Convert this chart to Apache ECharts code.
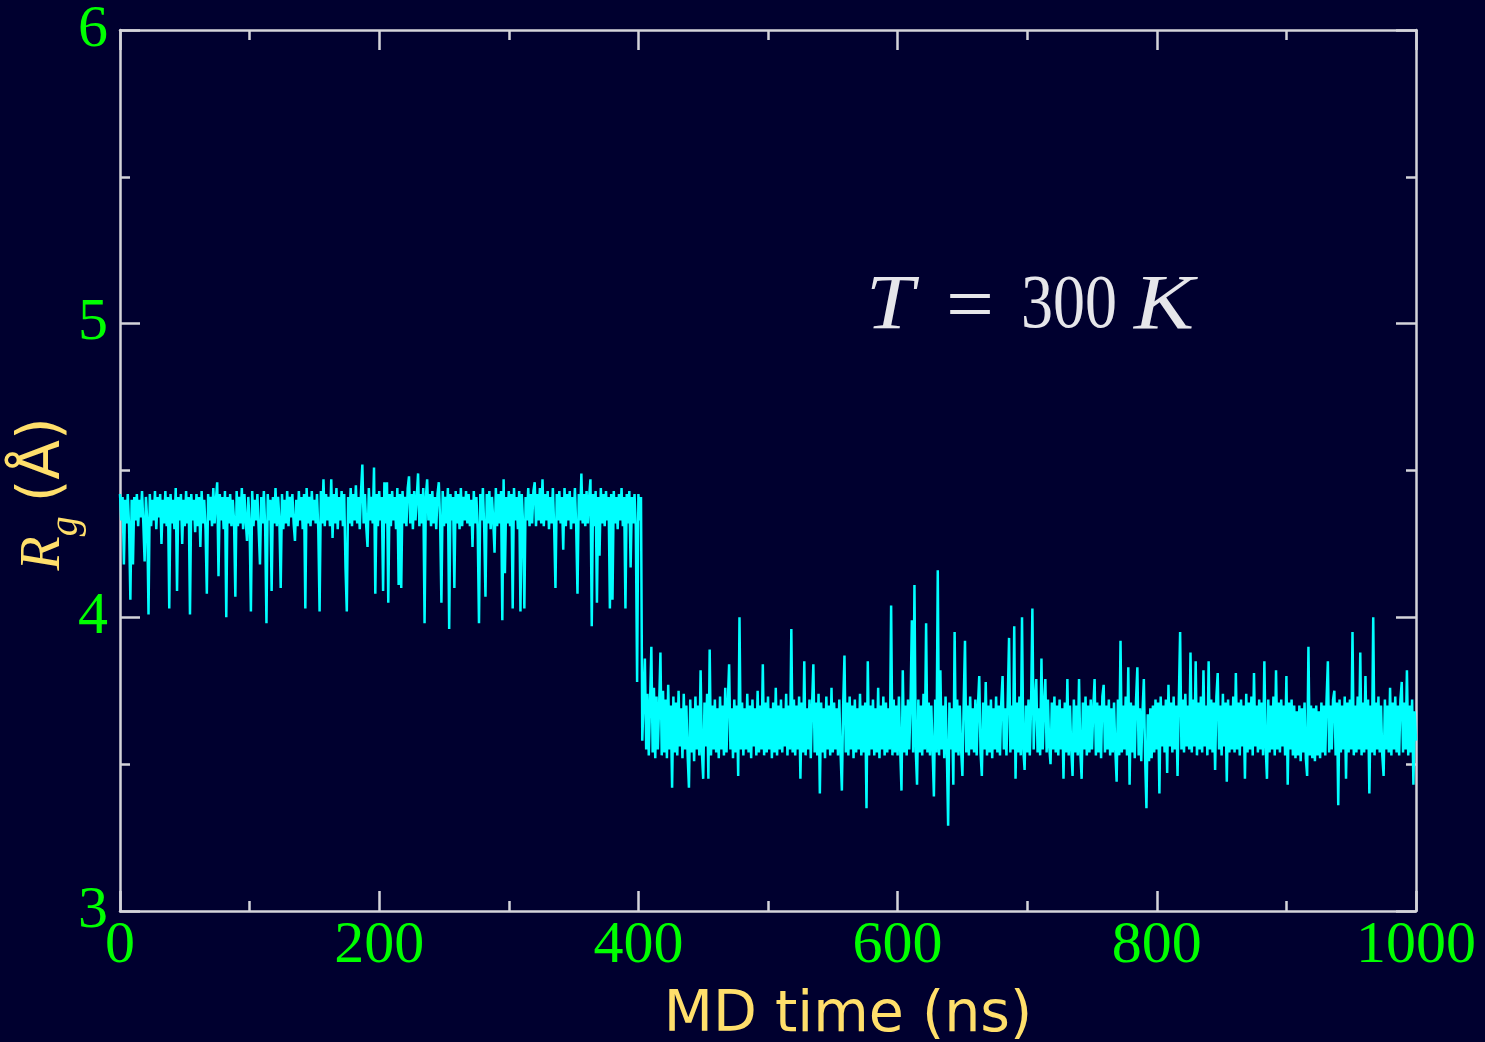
<!DOCTYPE html>
<html>
<head>
<meta charset="utf-8">
<script src="https://cdn.jsdelivr.net/npm/echarts@6/dist/echarts.min.js"></script>
<style>
html,body{margin:0;padding:0;background:#00002f;}
#chart{width:1485px;height:1042px;}
</style>
</head>
<body>
<div id="chart"></div>
<script>
// Time axis (ns)
const timeStep = 1;          // ns between samples
const equilStart = 0;        // first segment start (ns)
const collapsedStart = 403;  // second segment start (ns)
const xTicks = [0, 200, 400, 600, 800, 1000];
const yTicks = [3, 4, 5, 6];

// Rg (Å), extended state, t = 0 .. 402 ns
const rgExtended = [
4.42,4.33,4.41,4.18,4.40,4.32,4.42,4.31,4.06,4.40,4.18,4.41,4.33,4.42,4.31,4.40,4.34,4.43,4.32,4.19,
4.41,4.33,4.01,4.42,4.31,4.40,4.33,4.43,4.30,4.41,4.34,4.42,4.25,4.40,4.32,4.43,4.31,4.41,4.03,4.42,
4.32,4.40,4.30,4.44,4.09,4.41,4.33,4.42,4.25,4.40,4.31,4.43,4.32,4.41,4.01,4.42,4.33,4.40,4.29,4.42,
4.31,4.41,4.24,4.43,4.32,4.40,4.30,4.08,4.42,4.33,4.41,4.31,4.44,4.32,4.40,4.46,4.14,4.42,4.33,4.41,
4.30,4.43,4.00,4.41,4.32,4.42,4.31,4.40,4.33,4.07,4.43,4.31,4.41,4.32,4.44,4.30,4.42,4.33,4.26,4.41,
4.32,4.02,4.43,4.31,4.40,4.33,4.42,4.30,4.18,4.41,4.32,4.43,4.31,3.98,4.42,4.33,4.40,4.09,4.41,4.32,
4.44,4.31,4.41,4.33,4.10,4.42,4.30,4.40,4.32,4.43,4.31,4.41,4.34,4.42,4.32,4.26,4.40,4.31,4.43,4.33,
4.41,4.30,4.42,4.03,4.44,4.32,4.41,4.31,4.43,4.33,4.40,4.32,4.42,4.30,4.02,4.43,4.32,4.47,4.31,4.42,
4.33,4.41,4.31,4.47,4.27,4.42,4.32,4.44,4.30,4.41,4.33,4.43,4.31,4.42,4.17,4.02,4.41,4.32,4.44,4.31,
4.42,4.33,4.45,4.32,4.41,4.30,4.43,4.52,4.32,4.42,4.31,4.24,4.44,4.33,4.41,4.32,4.51,4.08,4.42,4.31,
4.43,4.33,4.41,4.09,4.46,4.32,4.46,4.05,4.42,4.31,4.43,4.33,4.41,4.30,4.44,4.11,4.42,4.10,4.43,4.32,
4.41,4.31,4.44,4.48,4.32,4.42,4.30,4.43,4.33,4.41,4.49,4.31,4.42,4.32,4.44,3.98,4.41,4.47,4.33,4.42,
4.31,4.43,4.32,4.41,4.30,4.42,4.46,4.33,4.05,4.43,4.31,4.41,4.32,4.44,3.96,4.42,4.33,4.41,4.10,4.43,
4.32,4.42,4.30,4.44,4.31,4.41,4.33,4.43,4.32,4.42,4.31,4.40,4.24,4.43,4.32,4.41,4.30,3.98,4.42,4.33,
4.44,4.31,4.07,4.42,4.32,4.43,4.30,4.41,4.33,4.22,4.44,4.31,4.42,4.32,4.43,3.99,4.47,4.15,4.41,4.32,
4.43,4.31,4.42,4.03,4.44,4.33,4.41,4.30,4.43,4.02,4.42,4.32,4.03,4.41,4.33,4.44,4.31,4.42,4.32,4.43,
4.46,4.31,4.42,4.33,4.44,4.32,4.47,4.31,4.42,4.33,4.43,4.30,4.41,4.32,4.44,4.31,4.10,4.42,4.33,4.43,
4.32,4.41,4.23,4.44,4.31,4.42,4.33,4.43,4.30,4.41,4.32,4.44,4.31,4.08,4.42,4.33,4.49,4.32,4.42,4.31,
4.43,4.32,4.41,4.47,3.97,4.42,4.31,4.43,4.05,4.41,4.21,4.44,4.32,4.42,4.31,4.43,4.33,4.41,4.03,4.42,
4.06,4.43,4.32,4.41,4.30,4.42,4.33,4.44,4.31,4.41,4.03,4.42,4.32,4.43,4.17,4.41,4.32,4.42,4.31,3.78,
4.42,4.33,4.41
];

// Rg (Å), compact state, t = 403 .. 1000 ns
const rgCompact = [
3.58,3.72,3.86,3.55,3.74,3.53,3.71,3.90,3.54,3.76,3.52,3.73,3.55,3.70,3.88,3.53,3.75,
3.54,3.72,3.52,3.77,3.55,3.70,3.42,3.73,3.54,3.71,3.53,3.75,3.56,3.69,3.52,3.74,3.55,3.70,3.53,3.42,
3.72,3.54,3.69,3.51,3.73,3.55,3.70,3.53,3.82,3.54,3.45,3.71,3.56,3.74,3.45,3.89,3.53,3.70,3.55,3.72,
3.54,3.69,3.52,3.73,3.55,3.70,3.53,3.76,3.54,3.71,3.84,3.55,3.69,3.52,3.72,3.54,3.70,3.46,4.00,3.55,
3.71,3.53,3.69,3.55,3.74,3.54,3.70,3.52,3.72,3.56,3.69,3.53,3.75,3.54,3.70,3.55,3.84,3.53,3.71,3.54,
3.73,3.55,3.69,3.52,3.71,3.54,3.76,3.53,3.70,3.55,3.72,3.54,3.69,3.56,3.74,3.53,3.70,3.55,3.96,3.54,
3.72,3.53,3.70,3.55,3.73,3.45,3.71,3.54,3.85,3.53,3.69,3.55,3.72,3.52,3.70,3.84,3.54,3.71,3.53,3.74,
3.40,3.71,3.54,3.69,3.52,3.73,3.55,3.70,3.53,3.76,3.54,3.71,3.55,3.69,3.53,3.72,3.54,3.41,3.70,3.87,
3.54,3.71,3.53,3.73,3.55,3.70,3.52,3.72,3.54,3.69,3.55,3.74,3.53,3.70,3.54,3.71,3.35,3.85,3.53,3.70,
3.55,3.72,3.53,3.69,3.54,3.76,3.52,3.70,3.55,3.73,3.53,3.71,3.54,3.69,3.55,4.04,3.53,3.72,3.54,3.70,
3.53,3.73,3.55,3.41,3.82,3.54,3.70,3.53,3.72,3.55,3.71,3.99,3.54,4.11,3.55,3.43,3.72,3.54,3.70,3.53,
3.74,3.55,3.98,3.54,3.71,3.53,3.70,3.55,3.39,3.72,3.54,4.16,3.53,3.82,3.55,3.70,3.52,3.73,3.54,3.29,
3.71,3.55,3.69,3.43,3.95,3.54,3.72,3.53,3.70,3.55,3.46,3.71,3.92,3.54,3.70,3.53,3.73,3.55,3.69,3.54,
3.72,3.53,3.70,3.80,3.54,3.46,3.71,3.55,3.78,3.53,3.70,3.54,3.72,3.52,3.69,3.55,3.73,3.54,3.70,3.53,
3.71,3.80,3.55,3.69,3.53,3.72,3.93,3.54,3.70,3.55,3.97,3.45,3.71,3.54,3.73,3.53,4.00,3.55,3.48,3.70,
3.54,3.72,3.53,3.70,4.03,3.55,3.71,3.79,3.54,3.69,3.53,3.86,3.55,3.70,3.79,3.54,3.72,3.56,3.50,3.71,
3.55,3.73,3.54,3.70,3.53,3.72,3.55,3.69,3.45,3.71,3.54,3.79,3.53,3.70,3.55,3.46,3.72,3.54,3.70,3.53,
3.79,3.54,3.45,3.71,3.55,3.73,3.53,3.70,3.54,3.72,3.55,3.69,3.79,3.53,3.71,3.54,3.70,3.52,3.73,3.77,
3.54,3.70,3.55,3.72,3.53,3.69,3.54,3.71,3.55,3.44,3.72,3.53,3.92,3.54,3.70,3.55,3.73,3.53,3.83,3.43,
3.71,3.54,3.70,3.52,3.72,3.83,3.53,3.69,3.51,3.68,3.79,3.52,3.35,3.67,3.51,3.69,3.52,3.70,3.54,3.72,
3.55,3.71,3.40,3.73,3.56,3.70,3.54,3.72,3.47,3.77,3.56,3.71,3.54,3.73,3.55,3.70,3.46,3.72,3.95,3.55,
3.72,3.54,3.74,3.56,3.70,3.55,3.88,3.54,3.72,3.56,3.85,3.53,3.71,3.55,3.73,3.54,3.82,3.56,3.70,3.53,
3.85,3.55,3.72,3.54,3.71,3.48,3.73,3.81,3.55,3.70,3.53,3.74,3.56,3.71,3.44,3.72,3.54,3.70,3.55,3.73,
3.54,3.81,3.55,3.71,3.53,3.72,3.56,3.70,3.45,3.74,3.54,3.71,3.55,3.73,3.53,3.81,3.56,3.70,3.54,3.72,
3.55,3.71,3.53,3.85,3.56,3.45,3.72,3.54,3.70,3.55,3.73,3.53,3.82,3.55,3.71,3.54,3.72,3.56,3.70,3.53,
3.80,3.43,3.71,3.55,3.72,3.53,3.70,3.52,3.68,3.53,3.70,3.51,3.69,3.54,3.71,3.52,3.46,3.90,3.53,3.70,
3.52,3.69,3.51,3.70,3.53,3.68,3.52,3.71,3.54,3.70,3.53,3.72,3.85,3.54,3.70,3.55,3.72,3.75,3.53,3.71,
3.36,3.72,3.54,3.70,3.55,3.73,3.45,3.71,3.54,3.72,3.55,3.95,3.53,3.70,3.54,3.73,3.55,3.88,3.53,3.71,
3.54,3.80,3.55,3.72,3.40,3.70,3.54,4.00,3.53,3.71,3.55,3.73,3.54,3.70,3.53,3.46,3.72,3.55,3.70,3.54,
3.76,3.53,3.71,3.55,3.73,3.54,3.70,3.53,3.72,3.78,3.54,3.71,3.55,3.82,3.53,3.70,3.54,3.72,3.43,3.68,
3.58
];

const xTitle = 'MD time (ns)';
const annotation = { T: 'T', eq: '=', val: '300', K: 'K' };

const seriesData = rgExtended.map((v, i) => [equilStart + i * timeStep, v])
  .concat(rgCompact.map((v, i) => [collapsedStart + i * timeStep, v]));

const frameColor = '#d4d4da';
const labelGreen = '#00ff00';
const titleYellow = '#ffdf6b';
const annColor = '#e6e6ea';
const serif = '"Liberation Serif", "DejaVu Serif", serif';
const sans = '"DejaVu Sans", "Liberation Sans", sans-serif';

function xAxisCfg(pos, showLabels) {
  return {
    type: 'value', position: pos, min: xTicks[0], max: xTicks[xTicks.length - 1],
    interval: xTicks[1] - xTicks[0],
    axisLine: { show: true, onZero: false, lineStyle: { color: frameColor, width: 2.5 } },
    axisTick: { show: true, inside: true, length: 20, lineStyle: { color: frameColor, width: 2.5 } },
    minorTick: { show: true, splitNumber: 2, length: 10, lineStyle: { color: frameColor, width: 2.5 } },
    splitLine: { show: false },
    axisLabel: { show: showLabels, color: labelGreen, fontFamily: serif, fontSize: 60, margin: 5,
                 formatter: v => String(v) }
  };
}
function yAxisCfg(pos, showLabels) {
  return {
    type: 'value', position: pos, min: yTicks[0], max: yTicks[yTicks.length - 1],
    interval: yTicks[1] - yTicks[0],
    axisLine: { show: true, onZero: false, lineStyle: { color: frameColor, width: 2.5 } },
    axisTick: { show: true, inside: true, length: 20, lineStyle: { color: frameColor, width: 2.5 } },
    minorTick: { show: true, splitNumber: 2, length: 10, lineStyle: { color: frameColor, width: 2.5 } },
    splitLine: { show: false },
    axisLabel: { show: showLabels, color: labelGreen, fontFamily: serif, fontSize: 60, margin: 12,
                 formatter: v => String(v) }
  };
}

const chart = echarts.init(document.getElementById('chart'), null, { renderer: 'canvas' });
chart.setOption({
  backgroundColor: '#00002f',
  animation: false,
  grid: { left: 120, right: 69, top: 29, bottom: 131, containLabel: false },
  xAxis: [xAxisCfg('bottom', true), xAxisCfg('top', false)],
  yAxis: [yAxisCfg('left', true), yAxisCfg('right', false)],
  series: [{
    type: 'line', xAxisIndex: 0, yAxisIndex: 0,
    data: seriesData, showSymbol: false, symbol: 'none', sampling: 'none',
    lineStyle: { color: '#00ffff', width: 2.5, join: 'bevel' },
    z: 1
  }],
  graphic: [
    {
      type: 'text', x: 848, y: 1016,
      style: { text: xTitle, fill: titleYellow, font: '57px ' + sans, align: 'center', verticalAlign: 'middle' }
    },
    {
      type: 'text', x: 44, y: 494, rotation: Math.PI / 2,
      style: {
        text: '{r|R}{g|g}{s| }{u|(Å)}',
        align: 'center', verticalAlign: 'middle',
        rich: {
          r: { fill: titleYellow, fontFamily: serif, fontStyle: 'italic', fontSize: 56 },
          g: { fill: titleYellow, fontFamily: serif, fontStyle: 'italic', fontSize: 40, padding: [44, 0, 0, 0] },
          s: { fill: titleYellow, fontFamily: sans, fontSize: 44 },
          u: { fill: titleYellow, fontFamily: sans, fontSize: 58 }
        }
      }
    },
    {
      type: 'text', x: 866, y: 307, scaleX: 1.2, scaleY: 1.1,
      style: { text: annotation.T, fill: annColor, font: 'italic 72px ' + serif, align: 'left', verticalAlign: 'middle' }
    },
    {
      type: 'text', x: 946, y: 310, scaleX: 1.33, scaleY: 1.25,
      style: { text: annotation.eq, fill: annColor, font: '64px ' + serif, align: 'left', verticalAlign: 'middle' }
    },
    {
      type: 'text', x: 1021, y: 307, scaleY: 1.2,
      style: { text: annotation.val, fill: annColor, font: '64px ' + serif, align: 'left', verticalAlign: 'middle' }
    },
    {
      type: 'text', x: 1134, y: 307, scaleX: 1.25, scaleY: 1.1,
      style: { text: annotation.K, fill: annColor, font: 'italic 72px ' + serif, align: 'left', verticalAlign: 'middle' }
    }
  ]
});
</script>
</body>
</html>
